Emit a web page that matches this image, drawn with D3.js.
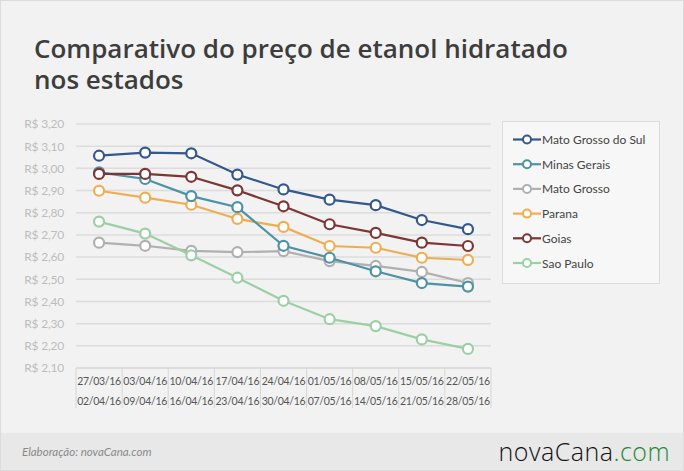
<!DOCTYPE html>
<html>
<head>
<meta charset="utf-8">
<script src="https://cdn.jsdelivr.net/npm/d3@7/dist/d3.min.js"></script>
<style>
  body { margin: 0; background: #f2f2f2; }
  svg { display: block; font-family: Lato, "Open Sans", sans-serif; }
</style>
</head>
<body>
<svg id="chart" width="684" height="471"></svg>
<script>
// weeks (two-line labels)
const weekStart = ["27/03/16", "03/04/16", "10/04/16", "17/04/16", "24/04/16", "01/05/16", "08/05/16", "15/05/16", "22/05/16"];
const weekEnd = ["02/04/16", "09/04/16", "16/04/16", "23/04/16", "30/04/16", "07/05/16", "14/05/16", "21/05/16", "28/05/16"];

const states = ["Mato Grosso do Sul", "Minas Gerais", "Mato Grosso", "Parana", "Goias", "Sao Paulo"];
const colors = ["#34588c", "#4d93a3", "#b0b0b0", "#f0ad50", "#7d3535", "#9dcfa5"];

const matoGrossoDoSul = [3.057, 3.071, 3.068, 2.972, 2.905, 2.859, 2.834, 2.767, 2.726];
const minasGerais = [2.982, 2.952, 2.875, 2.825, 2.651, 2.597, 2.536, 2.483, 2.467];
const matoGrosso = [2.665, 2.651, 2.628, 2.622, 2.627, 2.582, 2.560, 2.533, 2.483];
const parana = [2.899, 2.868, 2.836, 2.772, 2.736, 2.650, 2.642, 2.597, 2.587];
const goias = [2.975, 2.975, 2.962, 2.901, 2.829, 2.748, 2.709, 2.665, 2.650];
const saoPaulo = [2.760, 2.706, 2.608, 2.507, 2.403, 2.320, 2.289, 2.229, 2.186];

const yTicks = [2.10, 2.20, 2.30, 2.40, 2.50, 2.60, 2.70, 2.80, 2.90, 3.00, 3.10, 3.20];

const seriesValues = [matoGrossoDoSul, minasGerais, matoGrosso, parana, goias, saoPaulo];

const svg = d3.select('#chart');
const W = 684, H = 471;

// background + border
svg.append('rect').attr('x', 0.5).attr('y', 0.5).attr('width', W - 1).attr('height', H - 1)
  .attr('fill', '#f2f2f2').attr('stroke', '#dcdcdc');
svg.append('rect').attr('x', 1).attr('y', 433).attr('width', W - 2).attr('height', H - 434)
  .attr('fill', '#e8e8e8');

// title (two lines)
const titleLines = ['Comparativo do preço de etanol hidratado', 'nos estados'];
svg.append('g').selectAll('text').data(titleLines).join('text')
  .attr('x', 34).attr('y', (d, i) => 58 + i * 31)
  .attr('fill', '#3d3d3d').attr('font-size', 26).attr('font-weight', 600)
  .style('font-family', '"Open Sans", sans-serif')
  .text(d => d);

const plotLeft = 76, plotRight = 491, plotTop = 124, plotBottom = 368;

const x = d3.scaleBand().domain(weekStart).range([plotLeft, plotRight]);
const y = d3.scaleLinear().domain([2.10, 3.20]).range([plotBottom, plotTop]);

// gridlines
svg.append('g').selectAll('line').data(yTicks.slice(1)).join('line')
  .attr('x1', plotLeft).attr('x2', plotRight)
  .attr('y1', d => y(d)).attr('y2', d => y(d))
  .attr('stroke', '#dcdcdc').attr('stroke-width', 1.5);

// y axis labels
const yAxis = svg.append('g').attr('transform', `translate(${plotLeft},0)`)
  .call(d3.axisLeft(y).tickValues(yTicks).tickSize(0).tickPadding(12)
    .tickFormat(d => 'R$ ' + d3.format('.2f')(d).replace('.', ',')));
yAxis.select('.domain').remove();
yAxis.selectAll('text').attr('fill', '#bdbdbd').attr('font-size', 12)
  .style('font-family', 'Lato, sans-serif').style('letter-spacing', '-0.2px');

// x axis baseline and separators
svg.append('line').attr('x1', plotLeft).attr('x2', plotRight).attr('y1', plotBottom).attr('y2', plotBottom)
  .attr('stroke', '#d6d6d6').attr('stroke-width', 1.5);
const seps = weekStart.map(d => x(d)).concat([plotRight]);
svg.append('g').selectAll('line').data(seps).join('line')
  .attr('x1', d => d).attr('x2', d => d).attr('y1', plotBottom).attr('y2', 408)
  .attr('stroke', '#d6d6d6').attr('stroke-width', 1);

const xl = svg.append('g').attr('font-size', 10.5).attr('fill', '#555')
  .style('letter-spacing', '-0.3px');
xl.selectAll('text.s').data(weekStart).join('text').attr('class', 's')
  .attr('x', d => x(d) + x.bandwidth() / 2).attr('y', 385)
  .attr('text-anchor', 'middle').text(d => d);
xl.selectAll('text.e').data(weekEnd).join('text').attr('class', 'e')
  .attr('x', (d, i) => x(weekStart[i]) + x.bandwidth() / 2).attr('y', 405)
  .attr('text-anchor', 'middle').text(d => d);

// lines
const line = d3.line().x((d, i) => x(weekStart[i]) + x.bandwidth() / 2).y(d => y(d));
const drawOrder = [2, 5, 3, 1, 4, 0];
drawOrder.forEach(k => {
  const g = svg.append('g');
  g.append('path').datum(seriesValues[k]).attr('d', line)
    .attr('fill', 'none').attr('stroke', colors[k]).attr('stroke-width', 2.2);
  g.selectAll('circle').data(seriesValues[k]).join('circle')
    .attr('cx', (d, i) => x(weekStart[i]) + x.bandwidth() / 2).attr('cy', d => y(d))
    .attr('r', 5).attr('fill', '#fff').attr('stroke', colors[k]).attr('stroke-width', 2.2);
});

// legend
const lg = svg.append('g');
lg.append('rect').attr('x', 502.5).attr('y', 121.5).attr('width', 157).attr('height', 162)
  .attr('fill', '#f7f7f7').attr('stroke', '#dcdcdc');
states.forEach((s, i) => {
  const yy = 139.5 + i * 24.7;
  lg.append('line').attr('x1', 513).attr('x2', 541).attr('y1', yy).attr('y2', yy)
    .attr('stroke', colors[i]).attr('stroke-width', 2.2);
  lg.append('circle').attr('cx', 527).attr('cy', yy).attr('r', 4)
    .attr('fill', '#fff').attr('stroke', colors[i]).attr('stroke-width', 2);
  lg.append('text').attr('x', 542).attr('y', yy + 4.5).attr('font-size', 12)
    .attr('fill', '#444').text(s);
});

// footer
svg.append('text').attr('x', 22).attr('y', 456).attr('font-size', 11.5)
  .attr('font-style', 'italic').attr('fill', '#888').text('Elaboração: novaCana.com');
const logo = svg.append('text').attr('x', 670).attr('y', 461).attr('text-anchor', 'end')
  .attr('font-size', 25).attr('font-weight', 300).style('font-family', '"Open Sans", sans-serif')
  .style('letter-spacing', '0.5px');
logo.append('tspan').attr('fill', '#111').text('novaCana');
logo.append('tspan').attr('fill', '#1f8a3c').text('.com');
</script>
</body>
</html>
